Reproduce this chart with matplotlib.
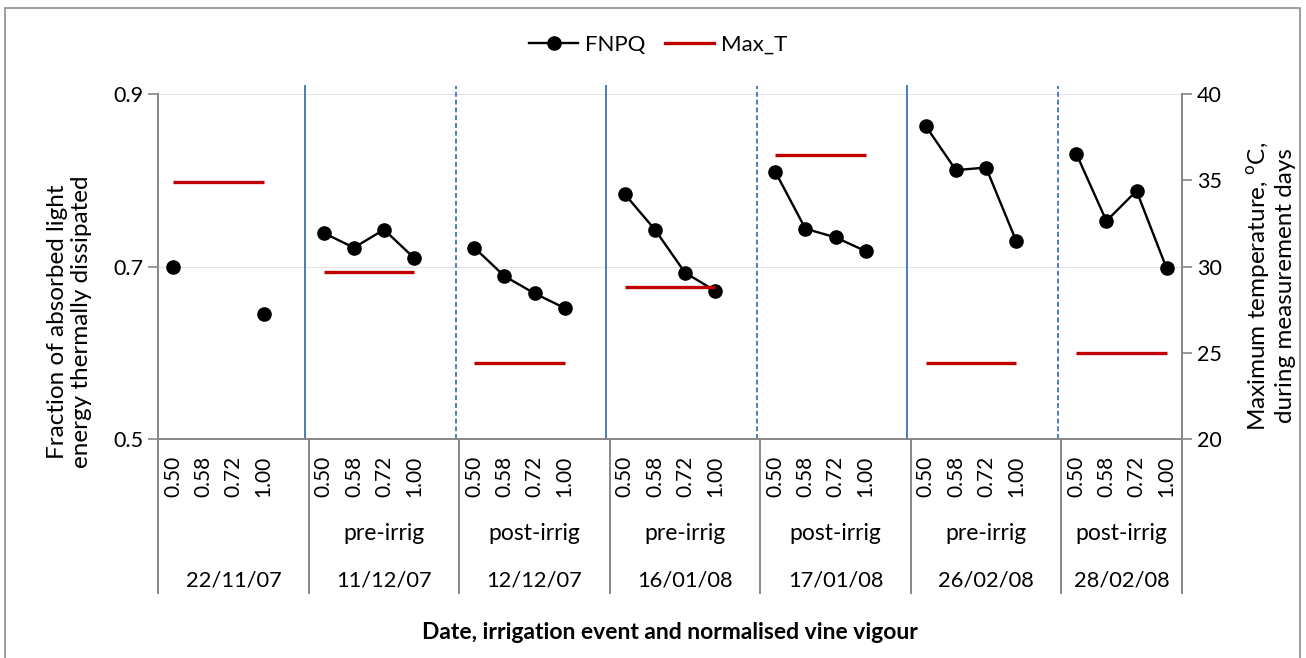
import matplotlib.pyplot as plt
import matplotlib.transforms as mtransforms
from matplotlib.lines import Line2D
from matplotlib.patches import Rectangle

plt.rcParams['font.family'] = ['Lato', 'DejaVu Sans']
plt.rcParams['mathtext.fontset'] = 'custom'
plt.rcParams['mathtext.rm'] = 'Lato'

# values
vigour = ['0.50', '0.58', '0.72', '1.00']
dates = ['22/11/07', '11/12/07', '12/12/07', '16/01/08',
         '17/01/08', '26/02/08', '28/02/08']
events = ['', 'pre-irrig', 'post-irrig', 'pre-irrig',
          'post-irrig', 'pre-irrig', 'post-irrig']
fnpq = [
    [0.700, None, None, 0.645],
    [0.739, 0.722, 0.743, 0.710],
    [0.722, 0.689, 0.669, 0.652],
    [0.784, 0.743, 0.693, 0.672],
    [0.810, 0.744, 0.734, 0.718],
    [0.863, 0.812, 0.815, 0.730],
    [0.831, 0.753, 0.788, 0.698],
]
max_t = [34.9, 29.7, 24.4, 28.8, 36.5, 24.4, 25.0]

GREY = '#878787'
BLUE = '#4A7EBB'
RED = '#C00000'
STEP = 5  # 4 categories + one empty slot per group

fig = plt.figure(figsize=(13.06, 6.58), dpi=100)
ax = fig.add_axes([0.1212, 0.3328, 0.7836, 0.5239])
ax2 = ax.twinx()

ticks, ticklabels = [], []
for g, vals in enumerate(fnpq):
    xs = [g * STEP + k for k in range(len(vals))]
    ys = [float('nan') if v is None else v for v in vals]
    ax.plot(xs, ys, color='black', lw=1.7, marker='o', ms=9.5,
            zorder=3)
    ax2.hlines(max_t[g], xs[0], xs[-1], color=RED, lw=2.4)
    ticks += xs
    ticklabels += vigour

ax.set_xlim(-0.5, STEP * len(fnpq) - 1.5)
ax.set_ylim(0.5, 0.9)
ax.set_yticks([0.5, 0.7, 0.9])
ax.set_yticklabels(['0.5', '0.7', '0.9'])
ax2.set_ylim(20, 40)
ax2.set_yticks([20, 25, 30, 35, 40])

ax.set_xticks(ticks)
ax.set_xticklabels(ticklabels, rotation=90, va='top')
ax.tick_params(axis='x', length=0, pad=12, labelsize=15)
ax.tick_params(axis='y', length=7, width=1.2, color=GREY,
               labelsize=15.5, pad=4)
ax2.tick_params(axis='y', length=7, width=1.2, color=GREY,
                labelsize=15.5, pad=4)

for a in (ax, ax2):
    for s in a.spines.values():
        s.set_visible(False)
ax.spines['left'].set_visible(True)
ax.spines['bottom'].set_visible(True)
ax2.spines['right'].set_visible(True)
for s in (ax.spines['left'], ax.spines['bottom'], ax2.spines['right']):
    s.set_color(GREY)
    s.set_linewidth(1.4)

ax.yaxis.grid(True, color='#E3E3E3', lw=0.8)
ax.set_axisbelow(True)

trans = mtransforms.blended_transform_factory(ax.transData, ax.transAxes)

# separators running down through the category label rows
for g in range(len(fnpq) + 1):
    xb = g * STEP - 0.5 if g < len(fnpq) else STEP * len(fnpq) - 1.5
    ax.plot([xb, xb], [0, -0.447], color=GREY, lw=1.4,
            transform=trans, clip_on=False)

# vertical markers between measurement days
for g in range(1, len(fnpq)):
    ls = '-' if g % 2 == 1 else (0, (2.5, 1.5))
    ax.plot([g * STEP - 0.62] * 2, [0, 1.024], color=BLUE, lw=1.4,
            ls=ls, transform=trans, clip_on=False, zorder=2)

for g in range(len(fnpq)):
    xc = g * STEP + (STEP - 1) / 2 if g < len(fnpq) - 1 else g * STEP + 1.5
    if events[g]:
        ax.text(xc, -0.273, events[g], transform=trans, ha='center',
                va='center', fontsize=16.5)
    ax.text(xc, -0.409, dates[g], transform=trans, ha='center',
            va='center', fontsize=15.75)

ax.text(0.5, -0.56, 'Date, irrigation event and normalised vine vigour',
        transform=ax.transAxes, ha='center', va='center',
        fontsize=16.5, fontweight='bold')

ax.set_ylabel('Fraction of absorbed light\nenergy thermally dissipated',
              fontsize=17.5, linespacing=1.15)
ax.yaxis.set_label_coords(-0.065, 0.34)
ax2.set_ylabel('Maximum temperature, $^{\\rm o}$C,\nduring measurement days',
               fontsize=17.5, linespacing=1.15)
ax2.yaxis.set_label_coords(1.062, 0.444)

handles = [
    Line2D([], [], color='black', lw=1.7, marker='o', ms=9.5),
    Line2D([], [], color=RED, lw=2.4),
]
fig.legend(handles, ['FNPQ', 'Max_T'], loc='center', ncol=2,
           bbox_to_anchor=(0.504, 0.932), frameon=False, fontsize=16,
           handlelength=2.2, handletextpad=0.3, columnspacing=0.9)

fig.patches.append(Rectangle((5 / 1306, -0.02), 1295 / 1306, 1.008,
                             transform=fig.transFigure, fill=False,
                             edgecolor='#8C8C8C', lw=1.2))

fig.savefig('out.png', dpi=100)
